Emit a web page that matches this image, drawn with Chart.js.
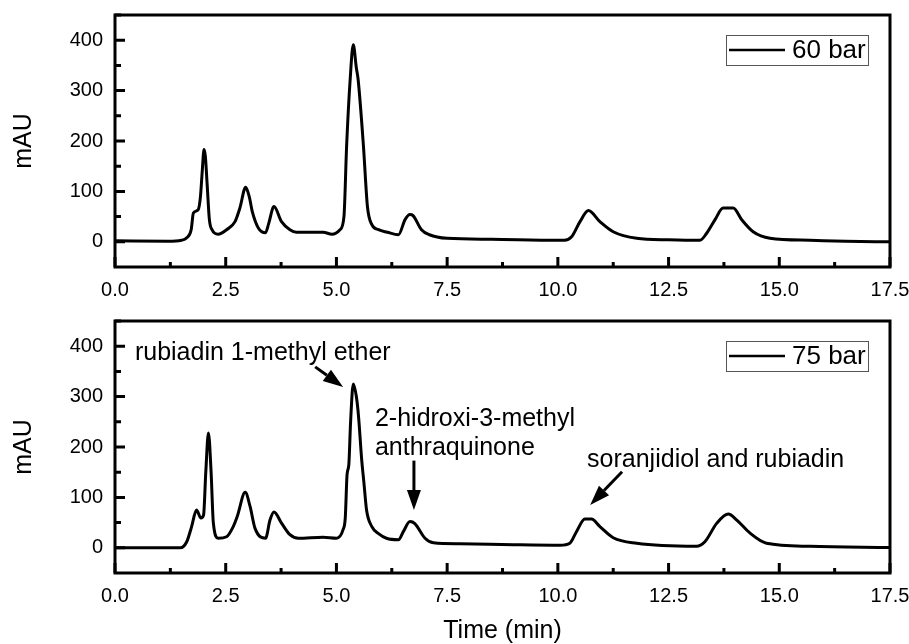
<!DOCTYPE html>
<html lang="en">
<head>
<meta charset="UTF-8">
<title>Chromatograms 60 / 75 bar</title>
<script src="https://cdn.jsdelivr.net/npm/chart.js"></script>
<style>
    body {
        margin: 0;
        background: #fff;
    }
    .wrap {
        position: relative;
        width: 909px;
        height: 644px;
    }
    .box {
        position: absolute;
        left: 0;
        width: 909px;
    }
    #top { top: 0; height: 320px; }
    #bottom { top: 300px; height: 344px; }
</style>
</head>
<body>
<div class="wrap">
    <div class="box" id="top"><canvas id="chart60"></canvas></div>
    <div class="box" id="bottom"><canvas id="chart75"></canvas></div>
</div>
<script>
    // axis ticks
    const xTicks = [0, 2.5, 5, 7.5, 10, 12.5, 15, 17.5];
    const yTicks = [0, 100, 200, 300, 400];

    // 60 bar run
    const time60 = [0, 1.2, 1.5, 1.62, 1.72, 1.77, 1.88, 1.93, 1.97, 2.01, 2.04, 2.08, 2.13, 2.19, 2.33, 2.52, 2.71, 2.82,
        2.95, 3.03, 3.1, 3.24, 3.4, 3.47, 3.59, 3.76, 3.95, 4.1, 4.7, 4.9, 5.08, 5.17, 5.23, 5.31, 5.38, 5.45, 5.49, 5.61,
        5.7, 5.8, 5.95, 6.15, 6.4, 6.55, 6.66, 6.73, 6.92, 7.1, 7.5, 8.5, 10.0, 10.15, 10.31, 10.5, 10.69, 10.95, 11.25,
        11.78, 12.5, 13.21, 13.36, 13.55, 13.73, 13.96, 14.15, 14.41, 14.79, 15.69, 16.5, 17.5];
    const mau60 = [2, 1, 3, 8, 24, 57, 64, 90, 140, 183, 170, 115, 45, 24, 15, 24, 40, 67,
        108, 90, 60, 27, 18, 36, 70, 40, 24, 19, 19, 15, 24, 50, 190, 322, 391, 345, 322, 190,
        70, 34, 24, 19, 14, 44, 54, 52, 24, 14, 7, 5, 3, 3, 10, 40, 62, 40, 20,
        7, 4, 3, 17, 44, 67, 67, 44, 20, 7, 3, 1, 0];

    // 75 bar run
    const time75 = [0, 1.47, 1.62, 1.73, 1.84, 1.94, 2.0, 2.05, 2.11, 2.17, 2.22, 2.33, 2.52, 2.67, 2.76, 2.94, 3.05,
        3.16, 3.4, 3.5, 3.59, 3.76, 3.95, 4.14, 4.7, 5.0, 5.15, 5.2, 5.24, 5.28, 5.32, 5.38, 5.45, 5.5, 5.57, 5.62, 5.68,
        5.8, 5.95, 6.13, 6.4, 6.51, 6.66, 6.77, 7.0, 7.19, 7.79, 9.0, 10.05, 10.27, 10.42, 10.61, 10.76, 10.95, 11.25,
        11.78, 13.13, 13.32, 13.59, 13.85, 14.04, 14.34, 14.71, 15.69, 17.5];
    const mau75 = [0, 0, 12, 42, 75, 59, 65, 150, 228, 150, 50, 19, 22, 42, 62, 110, 82,
        39, 19, 55, 71, 49, 26, 19, 21, 19, 36, 60, 145, 165, 250, 325, 300, 260, 175, 130, 75,
        42, 28, 19, 16, 32, 52, 48, 19, 10, 8, 6, 5, 9, 32, 57, 57, 42, 20,
        9, 3, 12, 49, 67, 55, 29, 9, 3, 0.5];

    const FONT = '"Liberation Sans", Arial, sans-serif';

    // labels and arrows on the 75 bar panel, in data units
    const notes75 = [
        { text: 'rubiadin 1-methyl ether', t: 0.45, v: 373 },
        { text: '2-hidroxi-3-methyl', t: 5.87, v: 242 },
        { text: 'anthraquinone', t: 5.87, v: 185 },
        { text: 'soranjidiol and rubiadin', t: 10.66, v: 161 }
    ];
    const arrows75 = [
        { from: [4.52, 359], to: [5.15, 319] },
        { from: [6.75, 173], to: [6.75, 75] },
        { from: [11.45, 151], to: [10.73, 85] }
    ];

    function drawArrow(ctx, x1, y1, x2, y2) {
        const ang = Math.atan2(y2 - y1, x2 - x1);
        const hl = 20, hw = 7;
        const bx = x2 - hl * Math.cos(ang), by = y2 - hl * Math.sin(ang);
        ctx.beginPath();
        ctx.moveTo(x1, y1);
        ctx.lineTo(bx, by);
        ctx.lineWidth = 3;
        ctx.stroke();
        ctx.beginPath();
        ctx.moveTo(x2, y2);
        ctx.lineTo(bx + hw * Math.sin(ang), by - hw * Math.cos(ang));
        ctx.lineTo(bx - hw * Math.sin(ang), by + hw * Math.cos(ang));
        ctx.closePath();
        ctx.fill();
    }

    function framePlugin(legendText, notes, arrows) {
        return {
            id: 'frame',
            afterDraw(chart) {
                const ctx = chart.ctx;
                const a = chart.chartArea;
                const xs = chart.scales.x, ys = chart.scales.y;
                ctx.save();
                ctx.strokeStyle = '#000';
                ctx.fillStyle = '#000';
                ctx.lineCap = 'butt';

                // inward tick marks
                ctx.lineWidth = 3;
                ctx.beginPath();
                xTicks.forEach((v, i) => {
                    const px = xs.getPixelForValue(v);
                    ctx.moveTo(px, a.bottom);
                    ctx.lineTo(px, a.bottom - 10);
                    if (i < xTicks.length - 1) {
                        const mx = xs.getPixelForValue((v + xTicks[i + 1]) / 2);
                        ctx.moveTo(mx, a.bottom);
                        ctx.lineTo(mx, a.bottom - 5);
                    }
                });
                yTicks.forEach(v => {
                    const py = ys.getPixelForValue(v);
                    ctx.moveTo(a.left, py);
                    ctx.lineTo(a.left + 10, py);
                    const my = ys.getPixelForValue(v + 50);
                    ctx.moveTo(a.left, my);
                    ctx.lineTo(a.left + 6, my);
                });
                ctx.stroke();

                // box
                ctx.lineWidth = 3;
                ctx.strokeRect(a.left, a.top, a.right - a.left, a.bottom - a.top);

                // legend
                const bx = a.right - 164, by = a.top + 20;
                ctx.lineWidth = 1;
                ctx.strokeStyle = '#555';
                ctx.strokeRect(bx + 0.5, by + 0.5, 142, 30);
                ctx.strokeStyle = '#000';
                ctx.lineWidth = 2.5;
                ctx.beginPath();
                ctx.moveTo(bx + 3, by + 15);
                ctx.lineTo(bx + 59, by + 15);
                ctx.stroke();
                ctx.font = '26px ' + FONT;
                ctx.textBaseline = 'middle';
                ctx.textAlign = 'left';
                ctx.fillText(legendText, bx + 66, by + 16);

                // annotations
                ctx.font = '25px ' + FONT;
                ctx.textBaseline = 'alphabetic';
                notes.forEach(n => {
                    ctx.fillText(n.text, xs.getPixelForValue(n.t), ys.getPixelForValue(n.v));
                });
                ctx.strokeStyle = '#000';
                arrows.forEach(ar => {
                    drawArrow(ctx,
                        xs.getPixelForValue(ar.from[0]), ys.getPixelForValue(ar.from[1]),
                        xs.getPixelForValue(ar.to[0]), ys.getPixelForValue(ar.to[1]));
                });
                ctx.restore();
            }
        };
    }

    function makeChart(id, label, times, values, padTop, xHeight, showXTitle, notes, arrows) {
        const ctx = document.getElementById(id).getContext('2d');
        return new Chart(ctx, {
            type: 'line',
            data: {
                datasets: [{
                    label: label,
                    data: times.map((t, i) => ({ x: t, y: values[i] })),
                    borderColor: '#000',
                    borderWidth: 3,
                    pointRadius: 0,
                    cubicInterpolationMode: 'monotone',
                    fill: false
                }]
            },
            options: {
                responsive: true,
                maintainAspectRatio: false,
                animation: false,
                layout: { padding: { top: padTop, right: 19, left: 0, bottom: 0 } },
                plugins: {
                    legend: { display: false },
                    tooltip: { enabled: false }
                },
                scales: {
                    x: {
                        type: 'linear',
                        min: 0,
                        max: 17.5,
                        afterBuildTicks: s => { s.ticks = xTicks.map(v => ({ value: v })); },
                        afterFit: s => { s.height = xHeight; s.paddingLeft = 0; s.paddingRight = 0; },
                        grid: { display: false, drawTicks: false },
                        border: { display: false },
                        ticks: {
                            padding: 11,
                            color: '#000',
                            font: { family: FONT, size: 20 },
                            maxRotation: 0,
                            callback: v => v.toFixed(1)
                        },
                        title: {
                            display: showXTitle,
                            text: 'Time (min)',
                            color: '#000',
                            font: { family: FONT, size: 25, lineHeight: 1 },
                            padding: { top: 0, bottom: 0 }
                        }
                    },
                    y: {
                        min: -50,
                        max: 450,
                        afterBuildTicks: s => { s.ticks = yTicks.map(v => ({ value: v })); },
                        afterFit: s => { s.width = 115; s.paddingTop = 0; s.paddingBottom = 0; },
                        grid: { display: false, drawTicks: false },
                        border: { display: false },
                        ticks: {
                            padding: 12,
                            color: '#000',
                            font: { family: FONT, size: 20 }
                        },
                        title: {
                            display: true,
                            text: 'mAU',
                            color: '#000',
                            font: { family: FONT, size: 25, lineHeight: 1 },
                            padding: { top: 12, bottom: 0 }
                        }
                    }
                }
            },
            plugins: [framePlugin(label, notes, arrows)]
        });
    }

    makeChart('chart60', '60 bar', time60, mau60, 15, 53, false, [], []);
    makeChart('chart75', '75 bar', time75, mau75, 21, 71, true, notes75, arrows75);
</script>
</body>
</html>
